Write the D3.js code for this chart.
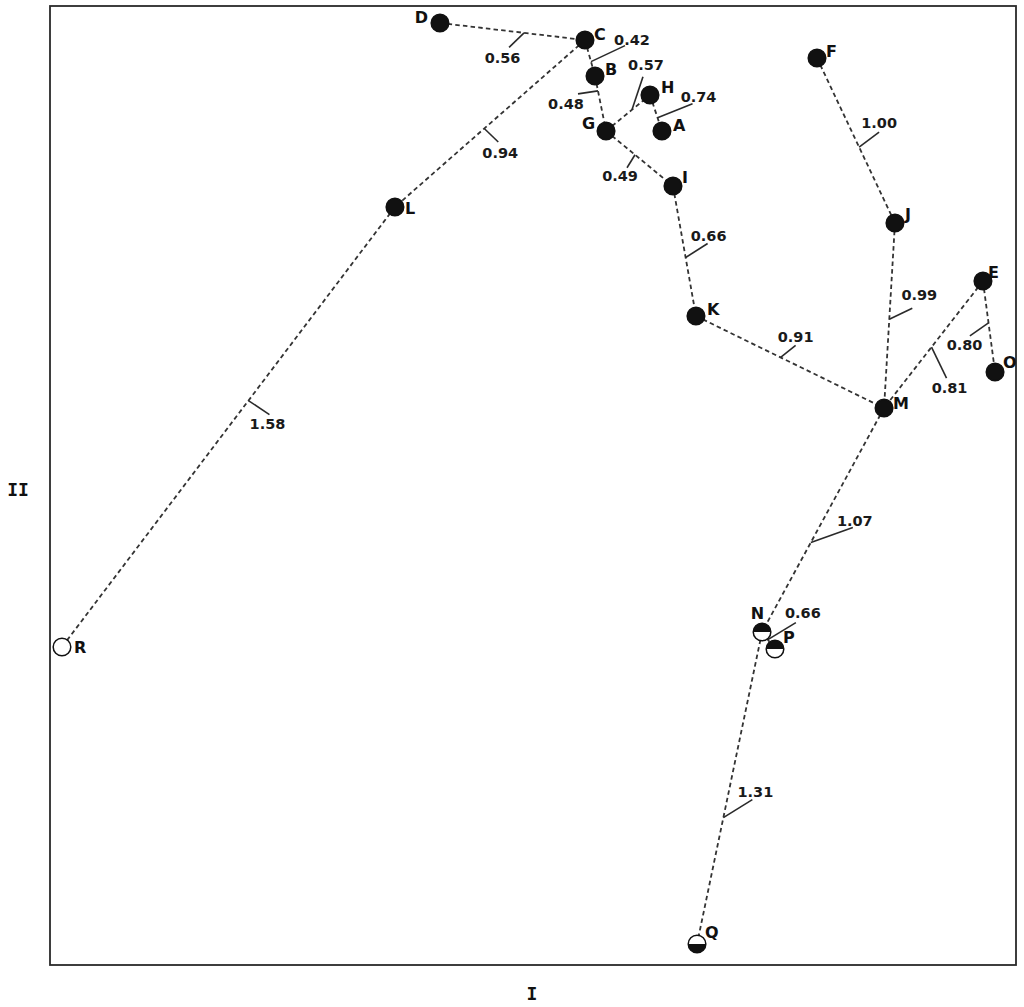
<!DOCTYPE html>
<html>
<head>
<meta charset="utf-8">
<script src="https://cdn.jsdelivr.net/npm/d3@7"></script>
<style>
  html, body { margin: 0; padding: 0; background: #ffffff; }
  svg { display: block; }
</style>
</head>
<body>
<script>
// ---------- DATA ----------
const nodeIds  = ["A","B","C","D","E","F","G","H","I","J","K","L","M","N","O","P","Q","R"];
const axisI    = [63.35,56.42,55.38,40.37,96.58,79.40,57.56,62.11,64.49,87.47,66.87,35.71,86.34,73.71,97.83,75.05,66.98,1.24];
const axisII   = [86.97,92.70,96.45,98.23,71.32,94.58,86.97,90.72,81.23,77.37,67.67,79.04,58.08,34.72,61.84,32.95,2.19,33.16];
// marker kind: full = filled, top = upper half filled, bottom = lower half filled, open = empty
const markerKind = ["full","full","full","full","full","full","full","full","full","full","full","full","full","top","full","top","bottom","open"];

const edgeFrom = ["D","C","B","G","H","C","G","I","F","J","K","E","E","M","N","N","L"];
const edgeTo   = ["C","B","G","H","A","L","I","K","J","M","M","M","O","N","P","Q","R"];
const edgeDist = ["0.56","0.42","0.48","0.57","0.74","0.94","0.49","0.66","1.00","0.99","0.91","0.81","0.80","1.07","0.66","1.31","1.58"];

const axisLabelX = "I";
const axisLabelY = "II";

// ---------- LAYOUT (pixels) ----------
const W = 1024, H = 1007;
const frame = {left: 50, right: 1016, top: 6, bottom: 965};
// leader layout per edge: [t along edge, leader end dx, dy, label dx, dy] relative to leader start
const leaderLayout = [
  [0.58, -15, 14.5, -21.5, 24.5],
  [0.60,  34, -16,   41,  -21.5],
  [0.27, -20,   3,  -32,   12.5],
  [0.59,  11, -33,   14,  -44.5],
  [0.63,  35, -14,   41,  -21],
  [0.53,  14, 13.5,  16,   24],
  [0.433, -8,  13,  -15,   21],
  [0.55,  22, -14,   23,  -22],
  [0.54,  20, -15,   20,  -24],
  [0.52,  23, -11,   30,  -24],
  [0.45,  15, -12,   15,  -21],
  [0.52,  15,  31,   18,   41],
  [0.46, -18.6, 13, -24,   22],
  [0.60,  42, -15,   44,  -22],
  [0.45,  28, -17,   35,  -27],
  [0.595, 29, -18,   32,  -26],
  [0.44,  21,  14,   19,   23]
];
// node label layout: [anchor, dx, dy(baseline)]
const nodeLabelLayout = {
  A:["start",11,0], B:["start",10,-1], C:["start",9,0], D:["end",-12,0],
  E:["start",5,-3], F:["start",9,-1], G:["end",-11,-2], H:["start",11,-2],
  I:["start",9,-3], J:["start",10,-3], K:["start",11,-1], L:["start",10,7],
  M:["start",9,1], N:["middle",-4.5,-13], O:["start",8,-4], P:["start",8,-6],
  Q:["start",8,-6], R:["start",12,6]
};
const R = 8.8;

// ---------- CHART ----------
const svg = d3.select("body").append("svg")
  .attr("width", W).attr("height", H)
  .style("background", "#ffffff");

const x = d3.scaleLinear().domain([0, 100]).range([frame.left, frame.right]);
const y = d3.scaleLinear().domain([0, 100]).range([frame.bottom, frame.top]);

const nodes = nodeIds.map((id, i) => ({id, I: axisI[i], II: axisII[i], kind: markerKind[i]}));
const byId = Object.fromEntries(nodes.map(n => [n.id, n]));
const edges = edgeFrom.map((f, i) => ({a: byId[f], b: byId[edgeTo[i]], d: edgeDist[i], lay: leaderLayout[i]}));

// frame
svg.append("rect")
  .attr("x", frame.left).attr("y", frame.top)
  .attr("width", frame.right - frame.left).attr("height", frame.bottom - frame.top)
  .attr("fill", "none").attr("stroke", "#2a2a2a").attr("stroke-width", 1.8);

// dashed edges
svg.append("g").selectAll("line").data(edges).join("line")
  .attr("x1", d => x(d.a.I)).attr("y1", d => y(d.a.II))
  .attr("x2", d => x(d.b.I)).attr("y2", d => y(d.b.II))
  .attr("stroke", "#333").attr("stroke-width", 1.8)
  .attr("stroke-dasharray", "4.5,3.2");

// leaders + distance labels
const start = d => {
  const t = d.lay[0];
  return [x(d.a.I) + t * (x(d.b.I) - x(d.a.I)), y(d.a.II) + t * (y(d.b.II) - y(d.a.II))];
};
const gl = svg.append("g");
gl.selectAll("line").data(edges).join("line")
  .attr("x1", d => start(d)[0]).attr("y1", d => start(d)[1])
  .attr("x2", d => start(d)[0] + d.lay[1]).attr("y2", d => start(d)[1] + d.lay[2])
  .attr("stroke", "#2a2a2a").attr("stroke-width", 1.6);
gl.selectAll("text").data(edges).join("text")
  .attr("x", d => start(d)[0] + d.lay[3])
  .attr("y", d => start(d)[1] + d.lay[4])
  .attr("dy", "0.36em")
  .attr("text-anchor", "middle")
  .attr("font-family", "'DejaVu Sans', sans-serif")
  .attr("font-weight", "bold")
  .attr("font-size", 14.5)
  .attr("fill", "#1a1a1a")
  .text(d => d.d);

// markers
const gn = svg.append("g").selectAll("g").data(nodes).join("g")
  .attr("transform", d => `translate(${x(d.I)},${y(d.II)})`);
gn.append("circle")
  .attr("r", R)
  .attr("fill", d => d.kind === "full" ? "#111" : "#fff")
  .attr("stroke", "#111").attr("stroke-width", 1.5);
gn.filter(d => d.kind === "top" || d.kind === "bottom").append("path")
  .attr("d", d => d.kind === "top"
      ? `M${-R},0 A${R},${R} 0 0 1 ${R},0 Z`
      : `M${-R},0 A${R},${R} 0 0 0 ${R},0 Z`)
  .attr("fill", "#111");

// node labels
gn.append("text")
  .attr("x", d => nodeLabelLayout[d.id][1])
  .attr("y", d => nodeLabelLayout[d.id][2])
  .attr("text-anchor", d => nodeLabelLayout[d.id][0])
  .attr("font-family", "'DejaVu Sans', sans-serif")
  .attr("font-weight", "bold")
  .attr("font-size", 16)
  .attr("fill", "#111")
  .text(d => d.id);

// axis titles
svg.append("text")
  .attr("x", (frame.left + frame.right) / 2 - 1).attr("y", 1000)
  .attr("text-anchor", "middle")
  .attr("font-family", "'DejaVu Sans Mono', monospace")
  .attr("font-weight", "bold").attr("font-size", 18)
  .attr("fill", "#111")
  .text(axisLabelX);
svg.append("text")
  .attr("x", 18).attr("y", 496)
  .attr("text-anchor", "middle")
  .attr("font-family", "'DejaVu Sans Mono', monospace")
  .attr("font-weight", "bold").attr("font-size", 18)
  .attr("fill", "#111")
  .text(axisLabelY);
</script>
</body>
</html>
